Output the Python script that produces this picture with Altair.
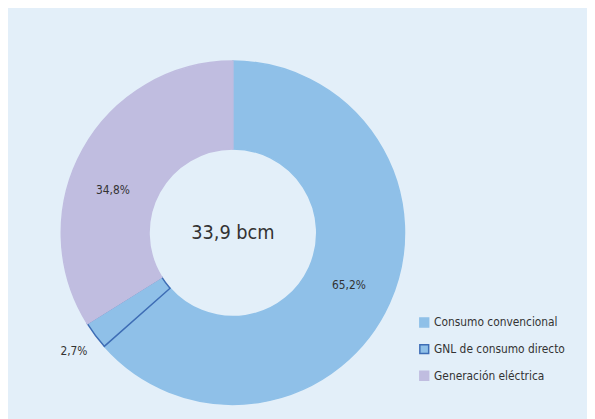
import altair as alt
import pandas as pd

categories = ["Consumo convencional", "GNL de consumo directo", "Generación eléctrica"]
values = [65.2, 2.7, 34.8]
fill_colors = ["#8fc0e8", "#8fc0e8", "#c0bde0"]
stroke_colors = ["#8fc0e8", "#3e6db5", "#c0bde0"]
center_label = "33,9 bcm"

df = pd.DataFrame({
    "cat": categories,
    "v": values,
    "idx": list(range(len(categories))),
    "lab": [f"{v:.1f}%".replace(".", ",") for v in values],
})

FONT = "DejaVu Sans Condensed, sans-serif"
CX, CY = 228, 225

legend_cfg = dict(title=None, orient="none", legendX=416, legendY=310,
                  symbolType="square", symbolSize=80, symbolStrokeWidth=1.5,
                  labelFont=FONT, labelFontSize=12, labelColor="#333333",
                  rowPadding=11, labelOffset=4)

base = alt.Chart(df).encode(
    theta=alt.Theta("v:Q", stack=True),
    order=alt.Order("idx:Q"),
)

arcs = base.mark_arc(innerRadius=85, outerRadius=174, strokeWidth=1.5).encode(
    x=alt.value(CX), y=alt.value(CY),
    color=alt.Color("cat:N", scale=alt.Scale(domain=categories, range=fill_colors),
                    legend=alt.Legend(**legend_cfg)),
    stroke=alt.Stroke("cat:N", scale=alt.Scale(domain=categories, range=stroke_colors),
                      legend=alt.Legend(**legend_cfg)),
)

inner_labels = base.mark_text(radius=129, font=FONT, fontSize=12, color="#333333").encode(
    x=alt.value(CX), y=alt.value(CY), text="lab:N"
).transform_filter(alt.datum.v > 10)

outer_labels = base.mark_text(radius=201, font=FONT, fontSize=12, color="#333333").encode(
    x=alt.value(CX), y=alt.value(CY),
    text=alt.condition(alt.datum.v < 10, "lab:N", alt.value("")),
)

center = alt.Chart(pd.DataFrame({"t": [center_label]})).mark_text(
    font=FONT, fontSize=20, color="#333333"
).encode(x=alt.value(CX), y=alt.value(CY), text="t:N")

chart = alt.layer(arcs, inner_labels, outer_labels, center).properties(
    width=587, height=411, background="#e3eff9", padding=0,
    autosize=alt.AutoSizeParams(type="none"),
).configure_view(stroke=None)

chart.save("out.html", embed_options={"renderer": "svg", "actions": False})
